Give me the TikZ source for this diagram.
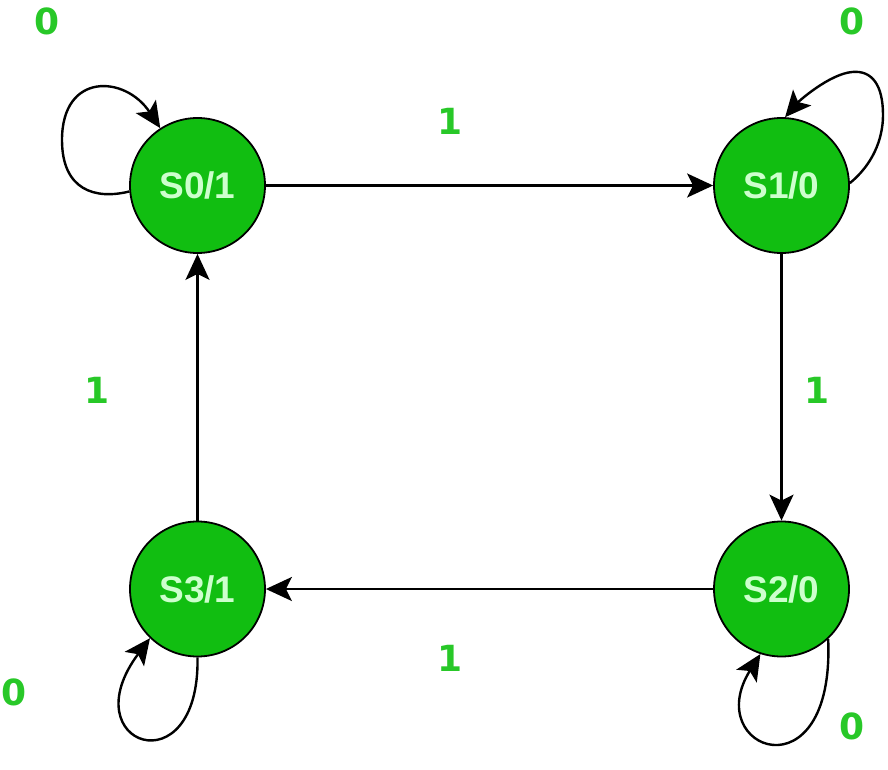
\documentclass[tikz,border=0pt]{standalone}
\usepackage{fontspec}
\setmainfont{Liberation Sans}
\newfontfamily\labfont{DejaVu Sans}
\usetikzlibrary{arrows.meta}
\definecolor{statefill}{RGB}{17,190,17}
\definecolor{statetext}{RGB}{205,255,205}
\definecolor{labgreen}{RGB}{40,200,40}
\tikzset{
  statenode/.style={circle, draw=black, line width=1.8pt, fill=statefill,
    minimum size=135pt, inner sep=0pt, text=statetext,
    font=\fontsize{37}{40}\selectfont\bfseries},
  conn/.style={line width=2.4pt, -{Stealth[length=26pt,width=24pt,inset=6pt]}},
  lab/.style={text=labgreen, font=\labfont\fontsize{36}{38}\selectfont\bfseries, inner sep=0pt}
}
\begin{document}
\begin{tikzpicture}[x=1pt,y=-1pt]
\useasboundingbox (0,0) rectangle (888,770);
\node[statenode] (s0) at (197.5,185.5) {S0/1};
\node[statenode] (s1) at (781.5,185.5) {S1/0};
\node[statenode] (s2) at (781.5,589) {S2/0};
\node[statenode] (s3) at (197.5,589) {S3/1};

\draw[conn] (s0) -- (s1);
\draw[conn] (s1) -- (s2);
\draw[conn] (s2) -- (s3);
\draw[conn] (s3) -- (s0);

\draw[conn] (s0.185) .. controls (95,200) and (62,190) .. (62,140)
   .. controls (62,72) and (125,75) .. (s0.123);
\draw[conn] (s1.2) .. controls (872,165) and (883,140) .. (883,115)
   .. controls (883,85) and (872,70) .. (852,72)
   .. controls (830,74) and (800,100) .. (s1.87);
\draw[conn] (s3.270) .. controls (200,790) and (70,745) .. (s3.226);
\draw[conn] (s2.313) .. controls (835,800) and (700,750) .. (s2.252);

\node[lab] (l01) at (450,121) {1};
\node[lab] (l12) at (817,390) {1};
\node[lab] (l23) at (450,658) {1};
\node[lab] (l30) at (97,390) {1};
\node[lab] (l00) at (47,21) {0};
\node[lab] (l11) at (852,21) {0};
\node[lab] (l33) at (14,692) {0};
\node[lab] (l22) at (852,726) {0};
\end{tikzpicture}
\end{document}
